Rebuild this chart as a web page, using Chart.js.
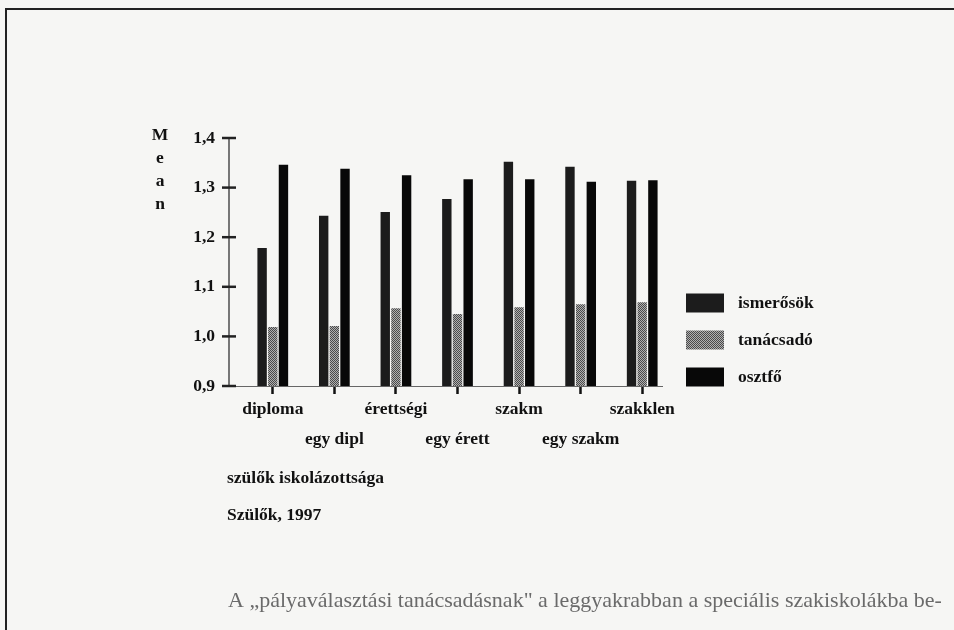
<!DOCTYPE html>
<html>
<head>
<meta charset="utf-8">
<script src="https://cdn.jsdelivr.net/npm/chart.js@4.4.1/dist/chart.umd.min.js"></script>
<style>
  html, body { margin: 0; padding: 0; background: #f6f6f4; }
  #wrap { position: relative; width: 954px; height: 630px; overflow: hidden; }
  #frame { position: absolute; left: 5px; top: 8px; width: 960px; height: 640px;
           border-left: 2px solid #222; border-top: 2px solid #222; }
  canvas { position: absolute; left: 0; top: 0; }
</style>
</head>
<body>
<div id="wrap">
  <div id="frame"></div>
  <canvas id="meanChart" width="954" height="630"></canvas>
</div>
<script>
const categories = ['diploma', 'egy dipl', 'érettségi', 'egy érett', 'szakm', 'egy szakm', 'szakklen'];
const ismerosok = [1.178, 1.243, 1.251, 1.277, 1.352, 1.342, 1.314];
const tanacsado = [1.019, 1.021, 1.057, 1.045, 1.059, 1.065, 1.069];
const osztfo = [1.346, 1.338, 1.325, 1.317, 1.317, 1.312, 1.315];
const seriesNames = ['ismerősök', 'tanácsadó', 'osztfő'];
const yTickLabels = ['0,9', '1,0', '1,1', '1,2', '1,3', '1,4'];
const yAxisTitle = 'Mean';
const xAxisTitle = 'szülők iskolázottsága';
const caption = 'Szülők, 1997';
const pageText = 'A \u201Epályaválasztási tanácsadásnak" a leggyakrabban a speciális szakiskolákba be-';

const FONT = '"Liberation Serif", "DejaVu Serif", serif';
Chart.defaults.font.family = FONT;
Chart.defaults.font.weight = 'bold';
Chart.defaults.color = '#111';

// dithered grey like the scanned hatch
function makePattern() {
  const c = document.createElement('canvas');
  c.width = 2; c.height = 2;
  const g = c.getContext('2d');
  g.fillStyle = '#b0b0b0'; g.fillRect(0, 0, 2, 2);
  g.fillStyle = '#4a4a4a'; g.fillRect(0, 0, 1, 1); g.fillRect(1, 1, 1, 1);
  return g.createPattern(c, 'repeat');
}
const ctx = document.getElementById('meanChart').getContext('2d');
const tanFill = makePattern();
const colors = ['#1c1c1c', tanFill, '#080808'];

const decorPlugin = {
  id: 'decor',
  beforeDatasetsDraw(chart) {
    const c = chart.ctx, a = chart.chartArea;
    const ys = chart.scales.y;
    const axX = a.left - 13;
    c.save();
    // x axis line
    c.strokeStyle = '#666'; c.lineWidth = 1;
    c.beginPath(); c.moveTo(axX, a.bottom + 0.5); c.lineTo(a.right - 10, a.bottom + 0.5); c.stroke();
    // y axis line and crossing ticks
    c.strokeStyle = '#222'; c.lineWidth = 1.2;
    c.beginPath(); c.moveTo(axX, ys.getPixelForValue(1.4)); c.lineTo(axX, a.bottom); c.stroke();
    c.lineWidth = 2.5;
    ys.ticks.forEach(t => {
      const py = ys.getPixelForValue(t.value);
      c.beginPath(); c.moveTo(axX - 7, py); c.lineTo(axX + 7, py); c.stroke();
    });
    c.restore();
  },
  afterDraw(chart) {
    const c = chart.ctx;
    c.save();
    c.fillStyle = '#111';
    c.font = 'bold 17.5px ' + FONT;
    c.textBaseline = 'middle';
    // vertical "Mean"
    c.textAlign = 'center';
    yAxisTitle.split('').forEach((ch, i) => c.fillText(ch, 160, 135 + i * 23));
    // captions
    c.textAlign = 'left';
    c.fillText(xAxisTitle, 227, 478);
    c.fillText(caption, 227, 515);
    // legend
    const rows = [303, 340, 377];
    chart.data.datasets.forEach((ds, i) => {
      c.fillStyle = ds.backgroundColor;
      c.fillRect(686, rows[i] - 9.5, 38, 19);
      c.fillStyle = '#111';
      c.fillText(ds.label, 738, rows[i]);
    });
    // page text below the figure
    c.fillStyle = '#6a6a6a';
    c.font = '22px ' + FONT;
    c.fillText(pageText, 228, 601, 722);
    c.restore();
  }
};

const chart = new Chart(ctx, {
  type: 'bar',
  data: {
    labels: categories,
    datasets: [ismerosok, tanacsado, osztfo].map((d, i) => ({
      label: seriesNames[i],
      data: d,
      backgroundColor: colors[i],
      borderWidth: 0,
      categoryPercentage: 0.52,
      barPercentage: 0.88
    }))
  },
  options: {
    responsive: false,
    animation: false,
    layout: { padding: { left: 182, right: 281, top: 138, bottom: 164 } },
    plugins: { legend: { display: false }, tooltip: { enabled: false } },
    scales: {
      x: {
        grid: { display: true, drawOnChartArea: false, offset: false, tickLength: 8, tickWidth: 2.5, tickColor: '#111' },
        border: { display: false },
        ticks: {
          autoSkip: false, maxRotation: 0, minRotation: 0, padding: 1,
          font: { size: 17.5, lineHeight: 1.71 },
          callback: function (v, i) {
            const l = this.getLabelForValue(v);
            return i % 2 ? ['', l] : l;
          }
        },
        afterFit: s => { s.height = 80; }
      },
      y: {
        min: 0.9, max: 1.4,
        grid: { display: false, drawTicks: false },
        border: { display: false },
        ticks: {
          stepSize: 0.1, padding: 27,
          font: { size: 17.5 },
          callback: (v, i) => yTickLabels[i]
        },
        afterFit: s => { s.width = 60; }
      }
    }
  },
  plugins: [decorPlugin]
});
</script>
</body>
</html>
